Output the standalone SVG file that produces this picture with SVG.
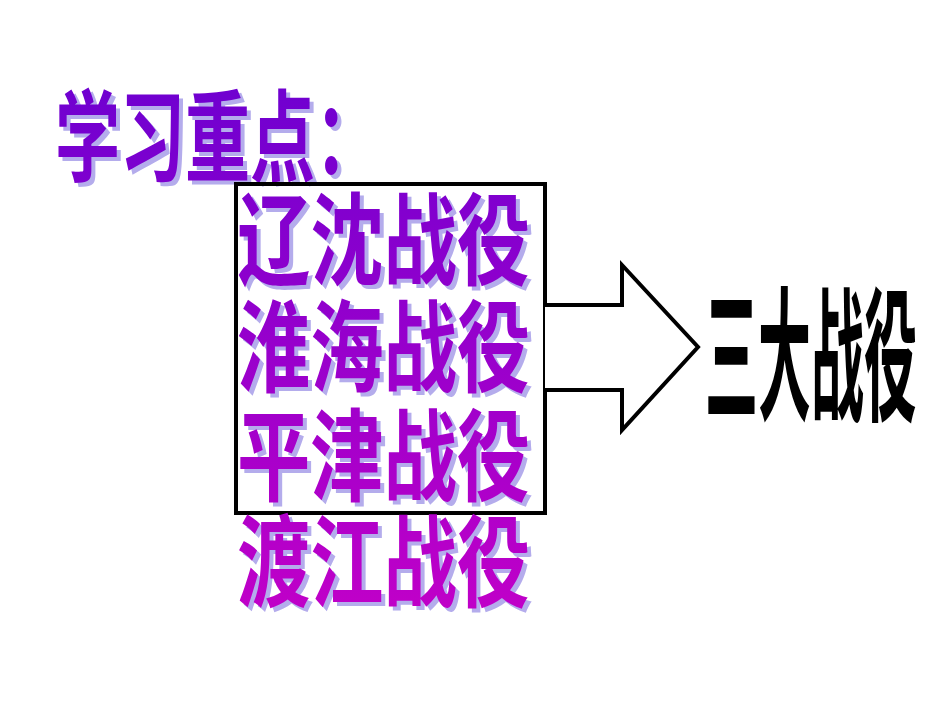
<svg xmlns="http://www.w3.org/2000/svg" width="950" height="713" viewBox="0 0 950 713">
<defs>
<linearGradient id="g" gradientUnits="userSpaceOnUse" x1="0" y1="90" x2="0" y2="610">
<stop offset="0" stop-color="#7000D0"/><stop offset="1" stop-color="#C000C8"/>
</linearGradient>
<style>
.t{font-family:"Noto Sans CJK SC",sans-serif;font-weight:bold;font-size:100px}
.sh{fill:#B4ACEC}
.f{fill:url(#g)}
</style>
</defs>
<rect width="950" height="713" fill="#fff"/>
<g id="title">
<text class="t sh" x="59" y="178" textLength="325" lengthAdjust="spacingAndGlyphs">学习重点：</text>
<text class="t f" x="55" y="174" textLength="325" lengthAdjust="spacingAndGlyphs">学习重点：</text>
</g>
<g id="box"><rect x="236" y="184" width="309" height="329" fill="none" stroke="#000" stroke-width="4"/></g>
<g id="items">
<text class="t sh" x="241" y="281" textLength="293" lengthAdjust="spacingAndGlyphs">辽沈战役</text>
<text class="t f" x="237" y="277" textLength="293" lengthAdjust="spacingAndGlyphs">辽沈战役</text>
<text class="t sh" x="241" y="388" textLength="293" lengthAdjust="spacingAndGlyphs">淮海战役</text>
<text class="t f" x="237" y="384" textLength="293" lengthAdjust="spacingAndGlyphs">淮海战役</text>
<text class="t sh" x="241" y="497" textLength="293" lengthAdjust="spacingAndGlyphs">平津战役</text>
<text class="t f" x="237" y="493" textLength="293" lengthAdjust="spacingAndGlyphs">平津战役</text>
<text class="t sh" x="241" y="603" textLength="293" lengthAdjust="spacingAndGlyphs">渡江战役</text>
<text class="t f" x="237" y="599" textLength="293" lengthAdjust="spacingAndGlyphs">渡江战役</text>
</g>
<g id="connectors">
<path d="M545,305 L622,305 L622,265 L698,347 L622,430 L622,390 L545,390" fill="#fff" stroke="#000" stroke-width="4" stroke-linejoin="miter"/>
</g>
<g id="result">
<text x="705" y="410" font-family="Noto Sans CJK SC,sans-serif" font-weight="bold" font-size="145" textLength="212" lengthAdjust="spacingAndGlyphs" fill="#000">三大战役</text>
</g>
</svg>
